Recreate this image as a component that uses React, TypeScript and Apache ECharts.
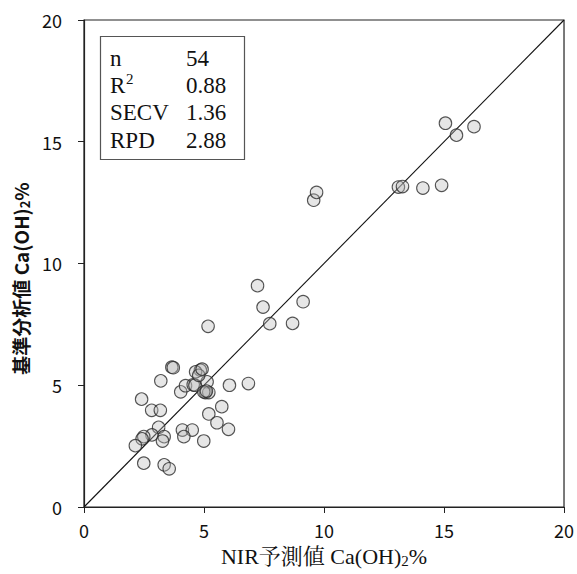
import React, { useEffect, useRef } from "react";
import * as echarts from "echarts";

// NIR predicted values (x) and reference analysis values (y), Ca(OH)2 %
const nirPredicted: number[] = [
  15.06, 15.52, 16.25, 13.10, 13.27, 14.12, 14.90,
  9.57, 9.69,
  7.23, 7.46, 9.13, 7.74, 8.69, 5.17,
  3.66, 3.72, 3.20, 2.40, 2.82, 3.18, 3.11, 2.83, 2.49, 2.42,
  2.14, 3.34, 3.27, 2.49, 3.34, 3.55, 4.10, 4.51, 4.16, 4.99,
  5.20, 5.54, 6.02, 5.74, 6.06, 6.85, 4.03, 4.23, 4.55, 4.62,
  5.13, 5.06, 5.20, 4.99, 4.85, 4.65, 4.78, 4.92, 5.10,
];
const referenceValues: number[] = [
  15.76, 15.27, 15.62, 13.14, 13.16, 13.10, 13.21,
  12.60, 12.92,
  9.09, 8.21, 8.43, 7.53, 7.54, 7.42,
  5.74, 5.72, 5.18, 4.43, 3.97, 3.97, 3.27, 2.96, 2.89, 2.80,
  2.52, 2.89, 2.71, 1.80, 1.73, 1.57, 3.16, 3.16, 2.89, 2.71,
  3.82, 3.46, 3.19, 4.12, 5.00, 5.07, 4.73, 4.98, 5.02, 5.00,
  5.14, 4.70, 4.70, 4.73, 5.62, 5.55, 5.41, 5.66, 4.76,
];

// 1:1 reference line
const identityLine: number[][] = [
  [0, 0],
  [20, 20],
];

// Calibration statistics shown in the legend box
const statLabels: string[] = ["n", "R", "SECV", "RPD"];
const statValues: string[] = ["54", "0.88", "1.36", "2.88"];

const axisTicks = { min: 0, max: 20, interval: 5 };

const serif = "'Liberation Serif', 'Times New Roman', 'Noto Serif CJK JP', 'Noto Sans CJK JP', serif";
const gothic = "'Noto Sans CJK JP', 'Noto Sans', sans-serif";

export default function App() {
  const ref = useRef<HTMLDivElement>(null);

  useEffect(() => {
    if (!ref.current) return;
    const chart = echarts.init(ref.current, undefined, { renderer: "svg" });

    const points = nirPredicted.map((x, i) => [x, referenceValues[i]]);

    const rowY = [58, 85, 112, 140];
    const statGraphics: any[] = [
      {
        type: "rect",
        shape: { x: 100.5, y: 36.5, width: 144, height: 123 },
        style: { fill: "#fff", stroke: "#555", lineWidth: 1.2 },
        z: 10,
      },
    ];
    statLabels.forEach((label, i) => {
      statGraphics.push({
        type: "text",
        x: 110,
        y: rowY[i],
        style: {
          text: label,
          font: `23px ${serif}`,
          fill: "#111",
          verticalAlign: "middle",
          align: "left",
        },
        z: 11,
      });
      statGraphics.push({
        type: "text",
        x: 186,
        y: rowY[i],
        style: {
          text: statValues[i],
          font: `23px ${serif}`,
          fill: "#111",
          verticalAlign: "middle",
          align: "left",
        },
        z: 11,
      });
    });
    // superscript of R²
    statGraphics.push({
      type: "text",
      x: 126,
      y: rowY[1] - 6,
      style: {
        text: "2",
        font: `15px ${serif}`,
        fill: "#111",
        verticalAlign: "middle",
        align: "left",
      },
      z: 11,
    });

    const axisCommon = {
      type: "value" as const,
      min: axisTicks.min,
      max: axisTicks.max,
      interval: axisTicks.interval,
      splitLine: { show: false },
      axisLine: { show: true, lineStyle: { color: "#222", width: 1.2 } },
      axisTick: { show: true, inside: false, length: 6, lineStyle: { color: "#222" } },
      nameLocation: "middle" as const,
    };

    chart.setOption({
      animation: false,
      backgroundColor: "#fff",
      grid: {
        left: 84,
        top: 20,
        right: 8,
        bottom: 65,
        show: true,
        borderColor: "#222",
        borderWidth: 1.2,
        backgroundColor: "transparent",
      },
      xAxis: {
        ...axisCommon,
        name: "NIR予測値 Ca(OH){sub|2}%",
        nameGap: 37,
        nameTextStyle: {
          fontFamily: serif,
          fontSize: 22,
          color: "#111",
          rich: {
            sub: { fontFamily: serif, fontSize: 15, color: "#111", padding: [10, 0, 0, 0] },
          },
        },
        axisLabel: { fontFamily: gothic, fontSize: 18, color: "#111", margin: 14 },
      },
      yAxis: {
        ...axisCommon,
        name: "基準分析値 Ca(OH){sub|2}%",
        nameGap: 52,
        nameRotate: 90,
        nameTextStyle: {
          fontFamily: gothic,
          fontSize: 19,
          fontWeight: "bold",
          color: "#111",
          padding: [0, 30, 0, 0],
          rich: {
            sub: { fontFamily: gothic, fontSize: 13, fontWeight: "bold", color: "#111", padding: [9, 0, 0, 0] },
          },
        },
        axisLabel: { fontFamily: gothic, fontSize: 18, color: "#111", margin: 22 },
      },
      series: [
        {
          type: "line",
          data: identityLine,
          showSymbol: false,
          symbol: "none",
          lineStyle: { color: "#111", width: 1.1 },
          z: 2,
          silent: true,
        },
        {
          type: "scatter",
          data: points,
          symbol: "circle",
          symbolSize: 12.5,
          itemStyle: {
            color: "rgba(185,185,185,0.45)",
            borderColor: "#2a2a2a",
            borderWidth: 1.1,
          },
          z: 3,
        },
      ],
      graphic: statGraphics,
    });

    return () => chart.dispose();
  }, []);

  return (
    <div
      ref={ref}
      style={{ position: "fixed", left: 0, top: 0, width: 577, height: 574, background: "#fff" }}
    />
  );
}
